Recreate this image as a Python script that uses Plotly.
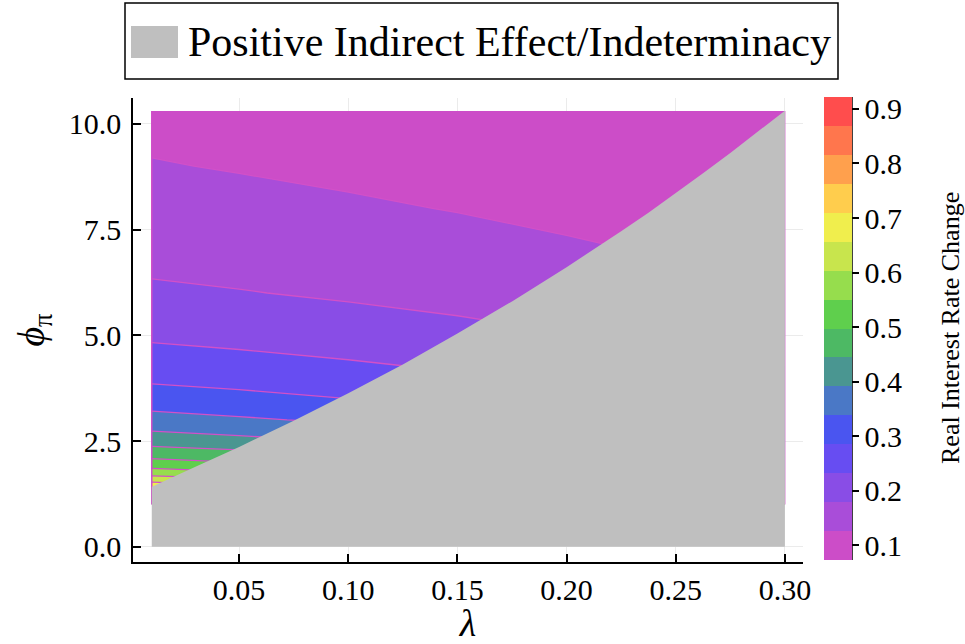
import plotly.graph_objects as go

# ---- data ----
lam = [0.01, 0.05, 0.10, 0.15, 0.20, 0.25, 0.30]
phi = [1.0, 1.25, 1.5, 1.75, 2.0, 2.5, 3.0, 3.5, 4.0, 5.0, 6.0, 7.0, 8.0, 9.0, 10.3]
# real interest rate change, rows = phi, cols = lambda
z = [
    [0.922, 0.894, 0.856, 0.815, 0.770, 0.723, 0.671],
    [0.770, 0.747, 0.716, 0.682, 0.641, 0.595, 0.545],
    [0.667, 0.643, 0.612, 0.578, 0.543, 0.506, 0.465],
    [0.577, 0.557, 0.532, 0.504, 0.474, 0.441, 0.406],
    [0.513, 0.496, 0.473, 0.448, 0.421, 0.392, 0.359],
    [0.421, 0.407, 0.387, 0.366, 0.344, 0.320, 0.293],
    [0.357, 0.345, 0.329, 0.311, 0.291, 0.270, 0.248],
    [0.311, 0.300, 0.285, 0.269, 0.252, 0.234, 0.214],
    [0.274, 0.265, 0.252, 0.238, 0.223, 0.206, 0.189],
    [0.223, 0.215, 0.204, 0.193, 0.180, 0.167, 0.153],
    [0.187, 0.181, 0.172, 0.162, 0.152, 0.141, 0.129],
    [0.162, 0.156, 0.149, 0.140, 0.131, 0.122, 0.111],
    [0.143, 0.138, 0.131, 0.124, 0.116, 0.107, 0.098],
    [0.128, 0.123, 0.117, 0.111, 0.104, 0.096, 0.088],
    [0.112, 0.108, 0.103, 0.097, 0.091, 0.084, 0.0725],
]
z_min, z_max = 0.0725, 0.922
n_bands = 16

# indeterminacy boundary
bound_lam = [0.01, 0.03, 0.05, 0.075, 0.10, 0.125, 0.15, 0.175, 0.20,
             0.2125, 0.225, 0.2375, 0.25, 0.2625, 0.275, 0.2875, 0.30]
bound_phi = [1.42, 1.89, 2.36, 2.98, 3.63, 4.31, 5.04, 5.80, 6.61,
             7.03, 7.46, 7.90, 8.36, 8.83, 9.31, 9.80, 10.31]

cbar_ticks = [0.1, 0.2, 0.3, 0.4, 0.5, 0.6, 0.7, 0.8, 0.9]
x_ticks = [0.05, 0.10, 0.15, 0.20, 0.25, 0.30]
y_ticks = [0.0, 2.5, 5.0, 7.5, 10.0]

band_colors = [
    "rgb(204,77,200)", "rgb(169,77,217)", "rgb(137,77,230)", "rgb(103,77,242)",
    "rgb(74,85,240)", "rgb(74,120,198)", "rgb(74,150,145)", "rgb(77,185,100)",
    "rgb(95,207,77)", "rgb(150,221,77)", "rgb(200,229,77)", "rgb(240,238,77)",
    "rgb(255,205,77)", "rgb(255,160,77)", "rgb(255,118,77)", "rgb(255,77,77)",
]

FONT = "Liberation Serif"
step = (z_max - z_min) / n_bands
colorscale = [[i / (n_bands - 1), c] for i, c in enumerate(band_colors)]
levels = dict(start=z_min + step, end=z_max - step, size=step)

# pixel helpers for paper-coordinate decorations
L, R, T, B = 133, 803, 98, 562
def px(x):
    return (x - L) / (R - L)
def py(y):
    return (B - y) / (B - T)

fig = go.Figure()

# edge lines of the contour field
fig.add_trace(go.Scatter(
    x=[lam[0], lam[0]], y=[phi[0], phi[-1]], mode="lines",
    line=dict(color="rgb(208,78,200)", width=1.5), showlegend=False, hoverinfo="skip"))
fig.add_trace(go.Scatter(
    x=[lam[-1], lam[-1]], y=[phi[0], phi[-1]], mode="lines",
    line=dict(color="rgb(214,120,210)", width=1.2), showlegend=False, hoverinfo="skip"))

# filled bands
fig.add_trace(go.Contour(
    x=lam, y=phi, z=z,
    zauto=False, zmin=z_min, zmax=z_max,
    autocontour=False,
    contours=dict(coloring="fill", **levels),
    colorscale=colorscale,
    line=dict(width=0, smoothing=0),
    colorbar=dict(
        x=px(824), xanchor="left", xpad=0,
        yref="paper", y=py(328.5), yanchor="middle", ypad=0,
        lenmode="pixels", len=463, thickness=28,
        outlinewidth=0,
        tickmode="array", tickvals=cbar_ticks, ticktext=[f"{v:.1f}" for v in cbar_ticks],
        ticks="outside", ticklen=7, tickwidth=1.5, tickcolor="black",
        tickfont=dict(family=FONT, size=30, color="black"),
    ),
    showlegend=False, hoverinfo="skip",
))
# contour lines
fig.add_trace(go.Contour(
    x=lam, y=phi, z=z,
    autocontour=False,
    contours=dict(coloring="none", **levels),
    line=dict(color="rgb(210,80,200)", width=1.3, smoothing=0),
    showscale=False, showlegend=False, hoverinfo="skip",
))

# gray indeterminacy region
poly_x = [bound_lam[0], bound_lam[-1]] + bound_lam[::-1] + [bound_lam[0]]
poly_y = [0.0, 0.0] + bound_phi[::-1] + [0.0]
fig.add_trace(go.Scatter(
    x=poly_x, y=poly_y, mode="lines", fill="toself",
    fillcolor="rgb(191,191,191)", line=dict(width=0, color="rgb(191,191,191)"),
    name="Positive Indirect Effect/Indeterminacy", showlegend=False, hoverinfo="skip"))

shapes = [
    # legend box
    dict(type="rect", xref="paper", yref="paper", x0=px(125), x1=px(838), y0=py(79), y1=py(3),
         line=dict(color="black", width=1.5), fillcolor="white", layer="above"),
    # legend swatch
    dict(type="rect", xref="paper", yref="paper", x0=px(131), x1=px(178), y0=py(58), y1=py(26),
         line=dict(width=0), fillcolor="rgb(191,191,191)", layer="above"),
    # colorbar right edge line
    dict(type="line", xref="paper", yref="paper", x0=px(852), x1=px(852), y0=py(560), y1=py(97),
         line=dict(color="black", width=1.5), layer="above"),
]
annotations = [
    dict(text="Positive Indirect Effect/Indeterminacy", xref="paper", yref="paper",
         x=px(186), y=py(42), xanchor="left", yanchor="middle", showarrow=False,
         font=dict(family=FONT, size=42, color="black")),
    dict(text="Real Interest Rate Change", xref="paper", yref="paper",
         x=px(950), y=py(328), xanchor="center", yanchor="middle", textangle=-90,
         showarrow=False, font=dict(family=FONT, size=26, color="black")),
]

axis_common = dict(
    showline=True, linecolor="black", linewidth=1.5, mirror=False,
    ticks="inside", ticklen=8, tickwidth=1.5, tickcolor="black",
    showgrid=True, gridcolor="rgb(235,235,235)", gridwidth=1, zeroline=False,
    tickfont=dict(family=FONT, size=30, color="black"), automargin=False,
)

fig.update_layout(
    width=965, height=644,
    margin=dict(l=L, r=965 - R, t=T, b=644 - B),
    paper_bgcolor="white", plot_bgcolor="white",
    font=dict(family=FONT, color="black"),
    shapes=shapes, annotations=annotations,
    xaxis=dict(range=[0.0014, 0.3083], tickvals=x_ticks, ticktext=[f"{v:.2f}" for v in x_ticks],
               title=dict(text="<i>λ</i>", font=dict(family=FONT, size=38), standoff=4),
               **axis_common),
    yaxis=dict(range=[-0.36, 10.61], tickvals=y_ticks, ticktext=[f"{v:.1f}" for v in y_ticks],
               ticklabelstandoff=4,
               title=dict(text="<i>ϕ</i><sub>π</sub>", font=dict(family=FONT, size=38), standoff=12),
               **axis_common),
)

fig.write_html("out.html")
